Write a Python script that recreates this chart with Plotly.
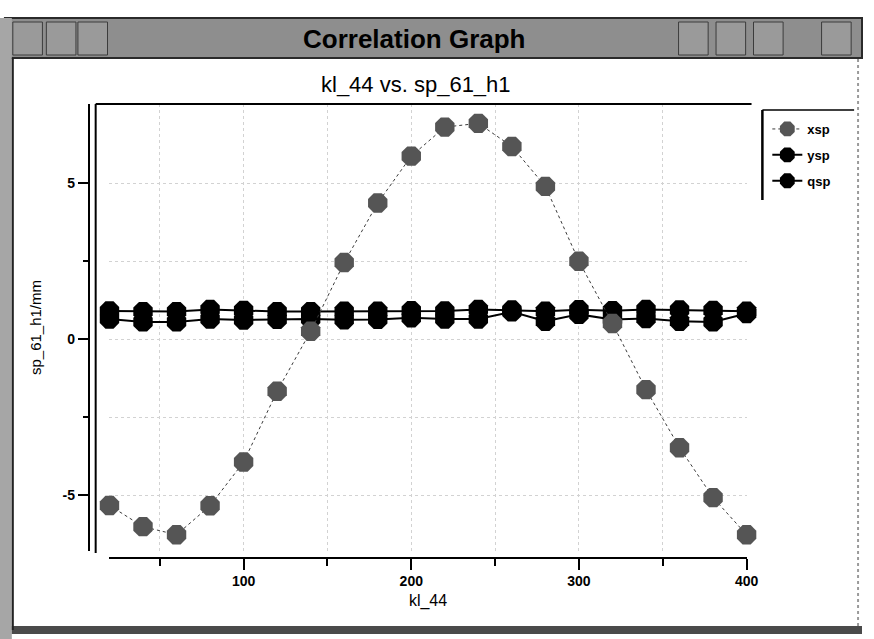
import plotly.graph_objects as go

W, H = 874, 639

# ---- data ----
kl_44 = [20, 40, 60, 80, 100, 120, 140, 160, 180, 200,
         220, 240, 260, 280, 300, 320, 340, 360, 380, 400]
xsp = [-5.32, -6.00, -6.26, -5.33, -3.93, -1.66, 0.26, 2.46, 4.37, 5.87,
       6.80, 6.92, 6.18, 4.90, 2.50, 0.51, -1.61, -3.47, -5.07, -6.26]
ysp = [0.91, 0.89, 0.89, 0.96, 0.93, 0.89, 0.89, 0.90, 0.90, 0.92,
       0.91, 0.96, 0.94, 0.90, 0.95, 0.92, 0.96, 0.94, 0.93, 0.90]
qsp = [0.65, 0.56, 0.56, 0.65, 0.62, 0.64, 0.65, 0.63, 0.64, 0.69,
       0.65, 0.65, 0.88, 0.58, 0.80, 0.64, 0.67, 0.58, 0.56, 0.83]

x_tick_vals = [100, 200, 300, 400]
x_tick_text = ["100", "200", "300", "400"]
x_minor_vals = [50, 150, 250, 350]
y_tick_vals = [-5, 0, 5]
y_tick_text = ["-5", "0", "5"]
y_minor_vals = [-2.5, 2.5]

window_title = "Correlation Graph"
chart_title = "kl_44 vs. sp_61_h1"
x_title = "kl_44"
y_title = "sp_61_h1/mm"


def px(x):
    return x / W


def py(y):
    return 1 - y / H


FONT = "Liberation Sans, Arial, sans-serif"
GRID = "#d2d2d2"

fig = go.Figure()

fig.add_trace(go.Scatter(
    x=kl_44, y=ysp, name="ysp", mode="lines+markers",
    line=dict(color="black", width=2),
    marker=dict(symbol="octagon", size=21, color="black"),
    legendrank=2, legendgroup="ysp", cliponaxis=False))
fig.add_trace(go.Scatter(
    x=kl_44, y=qsp, name="qsp", mode="lines+markers",
    line=dict(color="black", width=2),
    marker=dict(symbol="octagon", size=21, color="black"),
    legendrank=3, legendgroup="qsp", cliponaxis=False))
fig.add_trace(go.Scatter(
    x=kl_44, y=xsp, name="xsp", mode="lines+markers",
    line=dict(color="#3a3a3a", width=1, dash="dot"),
    marker=dict(symbol="octagon", size=21, color="#555555"),
    legendrank=1, legendgroup="xsp", cliponaxis=False))

shapes = []
# window title bar
shapes.append(dict(type="rect", xref="paper", yref="paper", layer="below",
                   x0=px(5), x1=px(874), y0=py(58), y1=py(18),
                   fillcolor="#8e8e8e", line=dict(color="#2a2a2a", width=2)))
# title-bar buttons
for cx in [28, 62, 94, 703, 741, 779, 848]:
    shapes.append(dict(type="rect", xref="paper", yref="paper", layer="below",
                       x0=px(cx - 15), x1=px(cx + 15), y0=py(55), y1=py(22),
                       fillcolor="#9a9a9a", line=dict(color="#3c3c3c", width=1)))
# left outer strip and border
shapes.append(dict(type="rect", xref="paper", yref="paper", layer="below",
                   x0=px(0), x1=px(12), y0=py(639), y1=py(18),
                   fillcolor="#a6a6a6", line=dict(width=0)))
shapes.append(dict(type="line", xref="paper", yref="paper",
                   x0=px(13), x1=px(13), y0=py(630), y1=py(58),
                   line=dict(color="#222222", width=2)))
# bottom window border
shapes.append(dict(type="rect", xref="paper", yref="paper", layer="below",
                   x0=px(12), x1=px(874), y0=py(634), y1=py(626),
                   fillcolor="#4a4a4a", line=dict(width=0)))
# right window edge
shapes.append(dict(type="line", xref="paper", yref="paper",
                   x0=px(870), x1=px(870), y0=py(626), y1=py(58),
                   line=dict(color="#9a9a9a", width=2, dash="dot")))
# plot frame (top and left, sunken relief)
shapes.append(dict(type="line", xref="paper", yref="paper",
                   x0=px(97), x1=px(762), y0=py(104), y1=py(104),
                   line=dict(color="black", width=2)))
shapes.append(dict(type="line", xref="paper", yref="paper",
                   x0=px(97), x1=px(97), y0=py(553), y1=py(104),
                   line=dict(color="black", width=2)))
# legend box (top and left)
shapes.append(dict(type="line", xref="paper", yref="paper",
                   x0=px(773), x1=px(866), y0=py(110), y1=py(110),
                   line=dict(color="black", width=1.5)))
shapes.append(dict(type="line", xref="paper", yref="paper",
                   x0=px(773), x1=px(773), y0=py(200), y1=py(110),
                   line=dict(color="black", width=2.5)))

annotations = [
    dict(text="<b>" + window_title + "</b>", x=px(420), y=py(39),
         xref="paper", yref="paper", showarrow=False,
         xanchor="center", yanchor="middle",
         font=dict(family=FONT, size=26, color="black")),
    dict(text=chart_title, x=px(422), y=py(84),
         xref="paper", yref="paper", showarrow=False,
         xanchor="center", yanchor="middle",
         font=dict(family=FONT, size=22, color="black")),
]

axis_common = dict(
    showline=True, linecolor="black", linewidth=2,
    ticks="outside", tickwidth=2, tickcolor="black",
    tickfont=dict(family=FONT, size=14, color="black", weight="bold"),
    showgrid=True, gridcolor=GRID, griddash="dot", gridwidth=1,
    zeroline=False, anchor="free",
)

fig.update_layout(
    width=W, height=H, autosize=False,
    margin=dict(l=0, r=0, t=0, b=0),
    paper_bgcolor="white", plot_bgcolor="white",
    showlegend=True,
    legend=dict(x=px(778), y=py(114), xanchor="left", yanchor="top",
                bgcolor="rgba(0,0,0,0)", borderwidth=0,
                font=dict(family=FONT, size=13, color="black", weight="bold"),
                tracegroupgap=6, itemwidth=30),
    xaxis=dict(
        domain=[px(111), px(757)], range=[20, 400],
        position=py(557.5),
        tickvals=x_tick_vals, ticktext=x_tick_text, ticklen=11,
        minor=dict(tickvals=x_minor_vals, ticks="outside", ticklen=7,
                   tickwidth=2, tickcolor="black", showgrid=True,
                   gridcolor=GRID, griddash="dot", gridwidth=1),
        title=dict(text=x_title, font=dict(family=FONT, size=16, color="black"),
                   standoff=6),
        **axis_common),
    yaxis=dict(
        domain=[py(551), py(104)], range=[-6.78, 7.54],
        position=px(90),
        tickvals=y_tick_vals, ticktext=y_tick_text, ticklen=10,
        minor=dict(tickvals=y_minor_vals, ticks="outside", ticklen=5,
                   tickwidth=2, tickcolor="black", showgrid=True,
                   gridcolor=GRID, griddash="dot", gridwidth=1),
        title=dict(text=y_title, font=dict(family=FONT, size=15, color="black"),
                   standoff=16),
        **axis_common),
    shapes=shapes,
    annotations=annotations,
)

fig.write_html("out.html", config={"displayModeBar": False})
